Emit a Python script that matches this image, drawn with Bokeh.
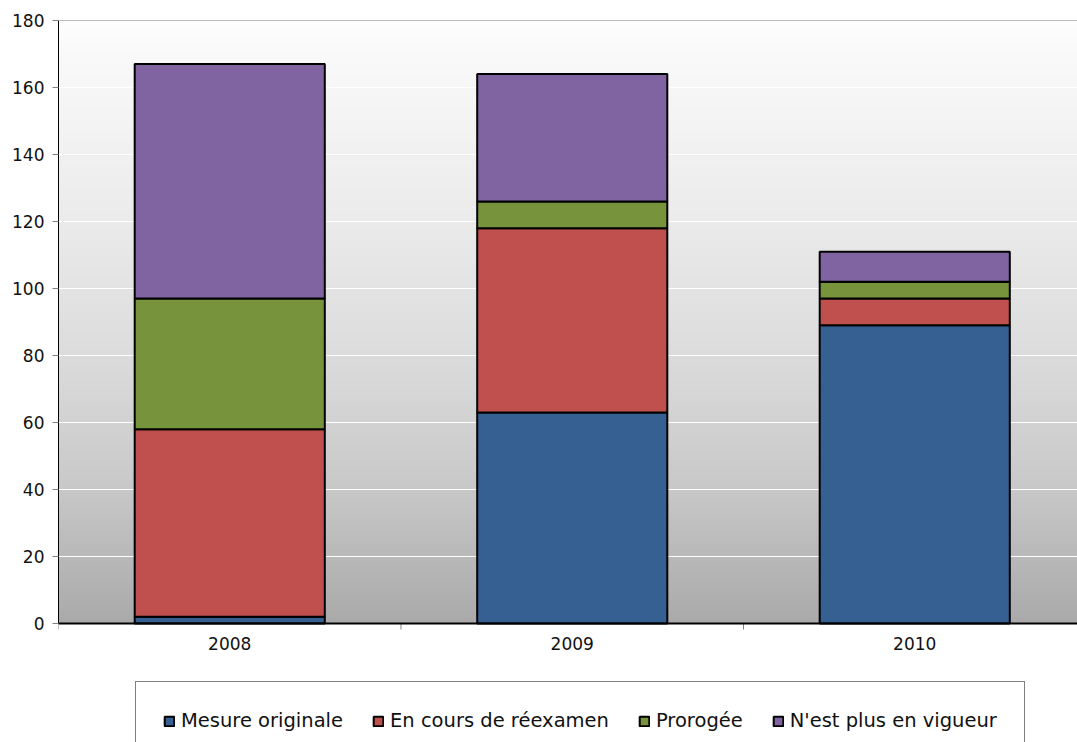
import numpy as np
from bokeh.plotting import figure
from bokeh.models import (Range1d, FixedTicker, Legend, LegendItem, ColumnDataSource, Span)
from bokeh.core.properties import value
from bokeh.embed import file_html
from bokeh.resources import INLINE

years = ["2008", "2009", "2010"]
series = ["Mesure originale", "En cours de réexamen", "Prorogée", "N'est plus en vigueur"]
mesure_originale = [2, 63, 89]
en_cours = [56, 55, 8]
prorogee = [39, 8, 5]
plus_en_vigueur = [70, 38, 9]
y_ticks = [0, 20, 40, 60, 80, 100, 120, 140, 160, 180]
colors = ["#376092", "#c0504d", "#77933c", "#8064a2"]

xs = [i + 0.5 for i in range(len(years))]
bounds_x = list(range(len(years) + 1))
keys = ["s0", "s1", "s2", "s3"]
source = ColumnDataSource(dict(x=xs, s0=mesure_originale, s1=en_cours, s2=prorogee, s3=plus_en_vigueur))

W, H = 1077, 742
left, top = 58, 20
y_max = y_ticks[-1]
px_per_unit = (623 - top) / y_max
y_start = y_max - (H - top) / px_per_unit
cat_px = 342.5
x_end = (W - left) / cat_px

p = figure(width=W, height=H, output_backend="svg", toolbar_location=None,
           x_range=Range1d(0, x_end), y_range=Range1d(y_start, y_max),
           min_border_left=left, min_border_right=0, min_border_top=top, min_border_bottom=0)
p.outline_line_color = None
p.background_fill_color = "white"
p.border_fill_color = "white"

# gradient background of the plot area
stops_y = [0, 3.9, 42.7, 84.5, 123.3, 174, 180]
stops_c = [170, 173, 202, 222, 236, 251, 254]
ys = np.linspace(0, y_max, 361)
g = np.interp(ys, stops_y, stops_c).astype(np.uint32)
img = ((255 << 24) | (g << 16) | (g << 8) | g).reshape(-1, 1).astype(np.uint32)
ir = p.image_rgba(image=[img], x=0, y=0, dw=x_end, dh=y_max)
ir.level = "image"

p.xgrid.visible = False
p.ygrid.ticker = FixedTicker(ticks=y_ticks[1:-1])
p.ygrid.grid_line_color = "white"
p.ygrid.grid_line_width = 1
p.add_layout(Span(location=y_max, dimension="width", line_color="#7a7a7a", line_width=1))

rs = p.vbar_stack(keys, x="x", width=0.555, source=source, fill_color=colors,
                  line_color="black", line_width=2)

# x axis drawn at value 0
p.xaxis.visible = False
p.add_layout(Span(location=0, dimension="width", line_color="black", line_width=2))
p.ray(x=bounds_x, y=[0] * len(bounds_x), length=6, length_units="screen",
      angle=-np.pi / 2, line_color="#808080", line_width=1)
p.text(x=xs, y=[0] * len(xs), text=years, y_offset=13, text_align="center",
       text_baseline="top", text_font=value("DejaVu Sans"), text_font_size="17px",
       text_color="#111111")

# y axis
p.yaxis.ticker = FixedTicker(ticks=y_ticks)
p.yaxis.bounds = (0, y_max)
p.yaxis.axis_line_color = "black"
p.yaxis.major_tick_line_color = "#808080"
p.yaxis.major_tick_out = 6
p.yaxis.major_tick_in = 0
p.yaxis.minor_tick_line_color = None
p.yaxis.major_label_text_font = "DejaVu Sans"
p.yaxis.major_label_text_font_size = "17px"
p.yaxis.major_label_text_color = "#111111"
p.yaxis.major_label_standoff = 8

legend = Legend(items=[LegendItem(label=s, renderers=[r]) for s, r in zip(series, rs)],
                orientation="horizontal", location=(77, -18))
legend.border_line_color = "black"
legend.border_line_width = 1
legend.background_fill_color = "white"
legend.background_fill_alpha = 1
legend.label_text_font = "DejaVu Sans"
legend.label_text_font_size = "19.5px"
legend.label_text_color = "#111111"
legend.glyph_width = 12
legend.glyph_height = 12
legend.label_standoff = 6
legend.spacing = 29
legend.padding = 27
legend.margin = 0
legend.label_height = 19
p.add_layout(legend, "center")

open("out.html", "w").write(file_html(p, INLINE))
